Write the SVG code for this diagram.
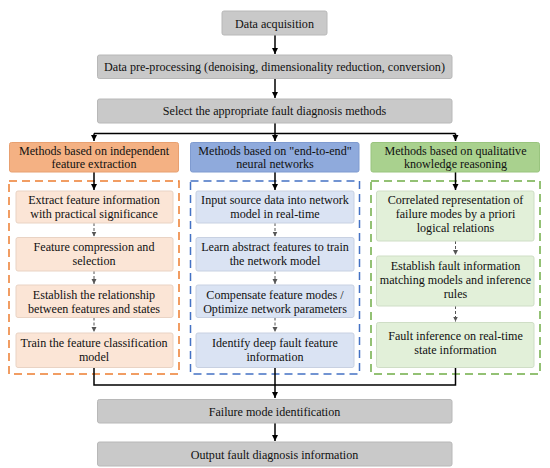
<svg xmlns="http://www.w3.org/2000/svg" width="550" height="468" viewBox="0 0 550 468">
<style>
text{font-family:'Liberation Serif','Times New Roman','DejaVu Serif',serif;font-size:12.1px;fill:#111;text-anchor:middle}
.g{fill:#c9c9c9;stroke:#b8b8b8;stroke-width:1}
.oh{fill:#f4b183;stroke:#e8a070;stroke-width:1}
.bh{fill:#8faadc;stroke:#7f9bd0;stroke-width:1}
.gh{fill:#a9d18e;stroke:#99c47e;stroke-width:1}
.oi{fill:#fbe5d6;stroke:#e9d3c4;stroke-width:1}
.bi{fill:#dae3f3;stroke:#c8d1e2;stroke-width:1}
.gi{fill:#e2f0d9;stroke:#cfdec6;stroke-width:1}
.oc{fill:none;stroke:#ed7d31;stroke-width:1.5;stroke-dasharray:8,5}
.bc{fill:none;stroke:#4472c4;stroke-width:1.5;stroke-dasharray:8,5}
.gc{fill:none;stroke:#70ad47;stroke-width:1.5;stroke-dasharray:8,5}
.s{fill:none;stroke:#000;stroke-width:1.5}
.d{fill:none;stroke:#555;stroke-width:1;stroke-dasharray:3,2}
</style>
<defs>
<marker id="ah" markerWidth="8" markerHeight="8" refX="6" refY="4" orient="auto" markerUnits="userSpaceOnUse"><path d="M0,1 L6,4 L0,7 Z" fill="#000"/></marker>
<marker id="ahg" markerWidth="6" markerHeight="6" refX="5" refY="3" orient="auto" markerUnits="userSpaceOnUse"><path d="M0,0.5 L5,3 L0,5.5 Z" fill="#555"/></marker>
</defs>
<g id="containers">
<rect class="oc" x="9" y="181" width="170" height="193"/>
<rect class="bc" x="190.5" y="181" width="169" height="193"/>
<rect class="gc" x="371" y="181" width="169" height="193"/>
</g>
<g id="connectors">
<path class="s" d="M275,35 V54" marker-end="url(#ah)"/>
<path class="s" d="M275,78.5 V98" marker-end="url(#ah)"/>
<path class="s" d="M275,123 V133.5 M94,133.5 H455.5"/>
<path class="s" d="M94,133.5 V141" marker-end="url(#ah)"/>
<path class="s" d="M275,133.5 V141" marker-end="url(#ah)"/>
<path class="s" d="M455.5,133.5 V141" marker-end="url(#ah)"/>
<path class="s" d="M94,172 V190" marker-end="url(#ah)"/>
<path class="s" d="M275,172 V190" marker-end="url(#ah)"/>
<path class="s" d="M455.5,172 V190" marker-end="url(#ah)"/>
<path class="d" d="M94,223 V236.5" marker-end="url(#ahg)"/>
<path class="d" d="M94,271 V284" marker-end="url(#ahg)"/>
<path class="d" d="M94,317.5 V332" marker-end="url(#ahg)"/>
<path class="d" d="M275,223 V236.5" marker-end="url(#ahg)"/>
<path class="d" d="M275,271 V284" marker-end="url(#ahg)"/>
<path class="d" d="M275,317.5 V332" marker-end="url(#ahg)"/>
<path class="d" d="M455.5,241 V255" marker-end="url(#ahg)"/>
<path class="d" d="M455.5,306 V321.5" marker-end="url(#ahg)"/>
<path class="s" d="M94,367.5 V385 H455.5 V367.5"/>
<path class="s" d="M275,367.5 V398" marker-end="url(#ah)"/>
<path class="s" d="M275,423 V441" marker-end="url(#ah)"/>
</g>
<g font-family="'Liberation Serif','Times New Roman',serif">
<g id="n1"><rect class="g" x="222" y="11" width="105" height="24" rx="2"/><text x="274.5" y="27.5">Data acquisition</text></g>
<g id="n2"><rect class="g" x="97.5" y="55" width="354.5" height="23.5" rx="2"/><text x="274.5" y="71">Data pre-processing (denoising, dimensionality reduction, conversion)</text></g>
<g id="n3"><rect class="g" x="97.5" y="99" width="354.5" height="24" rx="2"/><text x="274.5" y="115">Select the appropriate fault diagnosis methods</text></g>
<g id="h1"><rect class="oh" x="9.5" y="142.5" width="169" height="29.5" rx="2"/><text x="94" y="154.5">Methods based on independent</text><text x="94" y="168">feature extraction</text></g>
<g id="h2"><rect class="bh" x="190.5" y="142.5" width="168.5" height="29.5" rx="2"/><text x="275" y="154.5">Methods based on "end-to-end"</text><text x="275" y="168">neural networks</text></g>
<g id="h3"><rect class="gh" x="371" y="142.5" width="168.5" height="29.5" rx="2"/><text x="455.5" y="154.5">Methods based on qualitative</text><text x="455.5" y="168">knowledge reasoning</text></g>
<g id="o1"><rect class="oi" x="16" y="191" width="157" height="32" rx="2"/><text x="94" y="204">Extract feature information</text><text x="94" y="218">with practical significance</text></g>
<g id="o2"><rect class="oi" x="16" y="237.5" width="157" height="33.5" rx="2"/><text x="94" y="251">Feature compression and</text><text x="94" y="265">selection</text></g>
<g id="o3"><rect class="oi" x="16" y="285" width="157" height="32.5" rx="2"/><text x="94" y="298.5">Establish the relationship</text><text x="94" y="312.5">between features and states</text></g>
<g id="o4"><rect class="oi" x="16" y="333" width="157" height="34.5" rx="2"/><text x="94" y="346.5">Train the feature classification</text><text x="94" y="361">model</text></g>
<g id="b1"><rect class="bi" x="196" y="191" width="158" height="32" rx="2"/><text x="275" y="204">Input source data into network</text><text x="275" y="218">model in real-time</text></g>
<g id="b2"><rect class="bi" x="196" y="237.5" width="158" height="33.5" rx="2"/><text x="275" y="251">Learn abstract features to train</text><text x="275" y="265">the network model</text></g>
<g id="b3"><rect class="bi" x="196" y="285" width="158" height="32.5" rx="2"/><text x="275" y="298.5">Compensate feature modes /</text><text x="275" y="312.5">Optimize network parameters</text></g>
<g id="b4"><rect class="bi" x="196" y="333" width="158" height="34.5" rx="2"/><text x="275" y="346.5">Identify deep fault feature</text><text x="275" y="361">information</text></g>
<g id="g1"><rect class="gi" x="376.5" y="191" width="157.5" height="50" rx="2"/><text x="455.5" y="204">Correlated representation of</text><text x="455.5" y="218">failure modes by a priori</text><text x="455.5" y="232">logical relations</text></g>
<g id="g2"><rect class="gi" x="376.5" y="256" width="157.5" height="50" rx="2"/><text x="455.5" y="269.5">Establish fault information</text><text x="455.5" y="283.5">matching models and inference</text><text x="455.5" y="297.5">rules</text></g>
<g id="g3"><rect class="gi" x="376.5" y="322.5" width="157.5" height="45" rx="2"/><text x="455.5" y="340">Fault inference on real-time</text><text x="455.5" y="354">state information</text></g>
<g id="n4"><rect class="g" x="97.5" y="399.5" width="354.5" height="23.5" rx="2"/><text x="274.5" y="415.5">Failure mode identification</text></g>
<g id="n5"><rect class="g" x="97.5" y="442" width="354.5" height="24" rx="2"/><text x="274.5" y="458.5">Output fault diagnosis information</text></g>
</g>
</svg>
